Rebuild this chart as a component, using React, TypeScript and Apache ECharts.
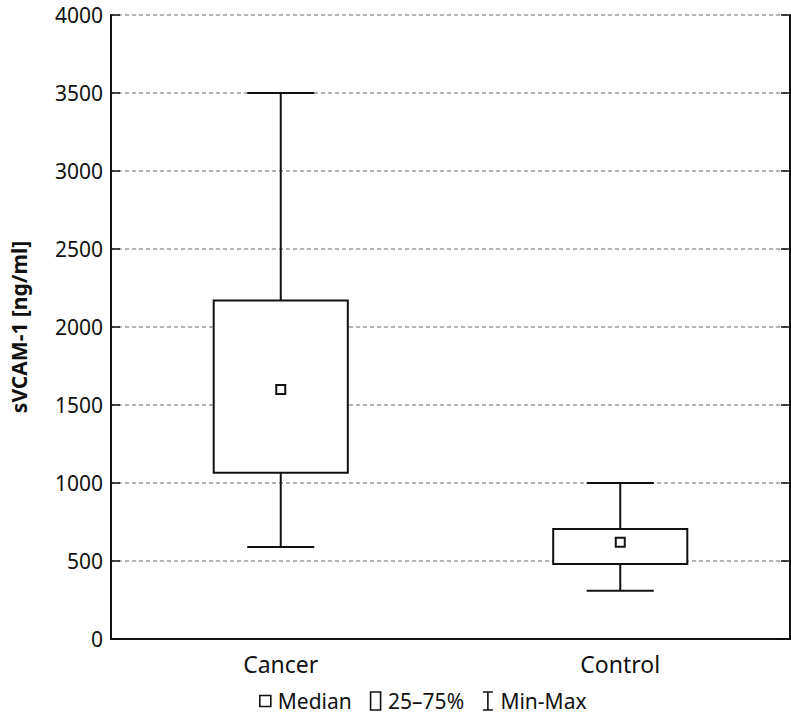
import React, { useEffect, useRef } from "react";
import * as echarts from "echarts";

const categories = ["Cancer", "Control"];
const mins = [590, 310];
const q1s = [1065, 480];
const medians = [1600, 620];
const q3s = [2170, 705];
const maxs = [3500, 1000];
const yTicks = { min: 0, max: 4000, interval: 500 };
const legendNames = ["Median", "25–75%", "Min-Max"];

const FONT = "Noto Sans";
const INK = "#111";

export default function App() {
  const ref = useRef<HTMLDivElement>(null);
  useEffect(() => {
    if (!ref.current) return;
    const chart = echarts.init(ref.current, null, { renderer: "svg" });
    const data = categories.map((c, i) => [i, mins[i], q1s[i], medians[i], q3s[i], maxs[i]]);
    const boxFrac = 0.395;

    const boxRender = (params: any, api: any) => {
      const x = api.value(0);
      const band = api.size([1, 0])[0];
      const w = band * boxFrac;
      const top = api.coord([x, api.value(4)]);
      const bot = api.coord([x, api.value(2)]);
      return {
        type: "rect",
        shape: { x: top[0] - w / 2, y: top[1], width: w, height: bot[1] - top[1] },
        style: { fill: "#fff", stroke: INK, lineWidth: 2 },
      };
    };
    const whiskerRender = (params: any, api: any) => {
      const x = api.value(0);
      const band = api.size([1, 0])[0];
      const cw = (band * boxFrac) / 2;
      const pMax = api.coord([x, api.value(5)]);
      const pQ3 = api.coord([x, api.value(4)]);
      const pQ1 = api.coord([x, api.value(2)]);
      const pMin = api.coord([x, api.value(1)]);
      const st = { stroke: INK, lineWidth: 2 };
      return {
        type: "group",
        children: [
          { type: "line", shape: { x1: pMax[0], y1: pMax[1], x2: pQ3[0], y2: pQ3[1] }, style: st },
          { type: "line", shape: { x1: pQ1[0], y1: pQ1[1], x2: pMin[0], y2: pMin[1] }, style: st },
          { type: "line", shape: { x1: pMax[0] - cw / 2, y1: pMax[1], x2: pMax[0] + cw / 2, y2: pMax[1] }, style: st },
          { type: "line", shape: { x1: pMin[0] - cw / 2, y1: pMin[1], x2: pMin[0] + cw / 2, y2: pMin[1] }, style: st },
        ],
      };
    };
    const medianRender = (params: any, api: any) => {
      const p = api.coord([api.value(0), api.value(3)]);
      const s = 9;
      return {
        type: "rect",
        shape: { x: p[0] - s / 2, y: p[1] - s / 2, width: s, height: s },
        style: { fill: "#fff", stroke: INK, lineWidth: 2 },
      };
    };

    const enc = { x: 0, y: [1, 2, 3, 4, 5] };
    chart.setOption({
      animation: false,
      textStyle: { fontFamily: FONT },
      grid: { left: 101, right: 1, top: 15, bottom: 75 },
      legend: {
        left: 259,
        top: 690,
        padding: 0,
        itemWidth: 11,
        itemHeight: 18,
        itemGap: 18,
        textStyle: { fontSize: 21, lineHeight: 22, color: INK, fontFamily: FONT, padding: [0, 0, 0, 2] },
        itemStyle: { color: "#fff", borderColor: INK, borderWidth: 1.6 },
        data: [
          { name: legendNames[0], icon: "path://M0,0 H10 V10 H0 Z" },
          { name: legendNames[1], icon: "path://M0,0 H10 V18 H0 Z" },
          { name: legendNames[2], icon: "path://M0,0 H10 M5,0 V18 M0,18 H10" },
        ],
      },
      xAxis: [
        {
          type: "category",
          data: categories,
          boundaryGap: true,
          axisLine: { lineStyle: { color: INK, width: 2 } },
          axisTick: { inside: true, alignWithLabel: true, length: 10, lineStyle: { color: INK, width: 1.5 } },
          axisLabel: { fontSize: 23, color: INK, margin: 13, fontFamily: FONT },
          splitLine: { show: false },
        },
        {
          type: "category",
          data: categories,
          position: "top",
          axisLine: { lineStyle: { color: INK, width: 2 } },
          axisTick: { show: false },
          axisLabel: { show: false },
          splitLine: { show: false },
        },
      ],
      yAxis: [
        {
          type: "value",
          min: yTicks.min,
          max: yTicks.max,
          interval: yTicks.interval,
          name: "sVCAM-1 [ng/ml]",
          nameLocation: "middle",
          nameGap: 82,
          nameTextStyle: { fontSize: 21, fontWeight: "bold", color: INK, fontFamily: FONT },
          axisLine: { show: true, lineStyle: { color: INK, width: 2 } },
          axisTick: { show: true, inside: true, length: 9, lineStyle: { color: INK, width: 1.5 } },
          axisLabel: {
            fontSize: 21,
            lineHeight: 16,
            color: INK,
            margin: 8,
            fontFamily: FONT,
            formatter: (v: number) => String(v),
          },
          splitLine: { show: true, lineStyle: { color: "#999", width: 1.5, type: [4, 3] } },
        },
        {
          type: "value",
          position: "right",
          min: yTicks.min,
          max: yTicks.max,
          interval: yTicks.interval,
          axisLine: { show: true, lineStyle: { color: INK, width: 2 } },
          axisTick: { show: true, inside: true, length: 9, lineStyle: { color: INK, width: 1.5 } },
          axisLabel: { show: false },
          splitLine: { show: false },
        },
      ],
      series: [
        { name: legendNames[1], type: "custom", data, encode: enc, renderItem: boxRender, z: 2, itemStyle: { color: "#fff", borderColor: INK } },
        { name: legendNames[2], type: "custom", data, encode: enc, renderItem: whiskerRender, z: 3, itemStyle: { color: "#fff", borderColor: INK } },
        { name: legendNames[0], type: "custom", data, encode: enc, renderItem: medianRender, z: 4, itemStyle: { color: "#fff", borderColor: INK } },
      ],
    });
    return () => chart.dispose();
  }, []);
  return (
    <div
      ref={ref}
      style={{ position: "fixed", left: 0, top: 0, width: 791, height: 714, background: "#fff" }}
    />
  );
}
